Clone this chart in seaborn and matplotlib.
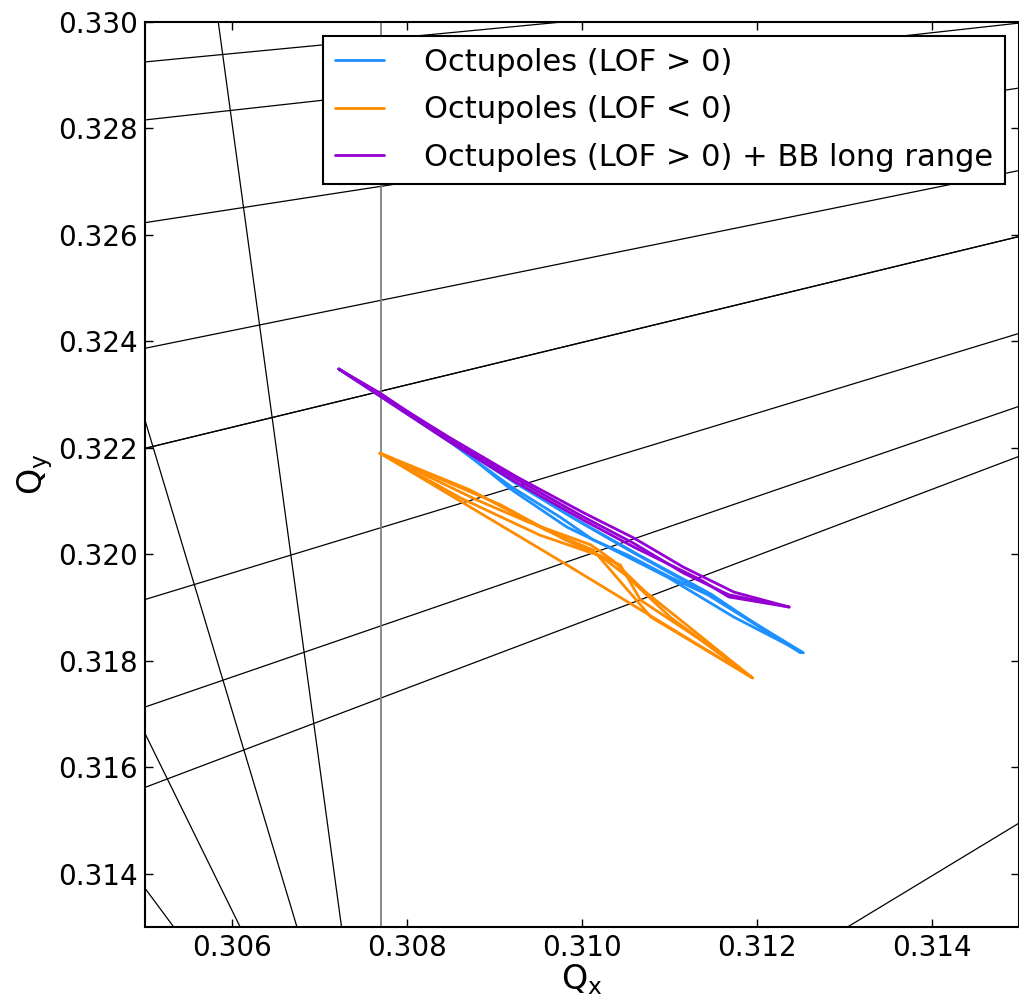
import numpy as np
import pandas as pd
import matplotlib
matplotlib.use("Agg")
import matplotlib.pyplot as plt
import seaborn as sns
from matplotlib.lines import Line2D
from matplotlib.ticker import FormatStrFormatter

# ----------------------------------------------------------
# DATA
# ----------------------------------------------------------

# resonance lines, read off the picture as end points (Qx0, Qy0) -> (Qx1, Qy1)
# (the 0.322 -> 0.326 line is drawn twice, it looks doubled in the original)
res_qx0 = [0.30584, 0.30500, 0.30500, 0.30500, 0.30500, 0.30500, 0.30500,
           0.30500, 0.30500, 0.30500, 0.30500, 0.30500, 0.30500, 0.31304]
res_qy0 = [0.33000, 0.32253, 0.31664, 0.31373, 0.32925, 0.32816, 0.32623,
           0.32387, 0.32199, 0.32199, 0.31915, 0.31713, 0.31562, 0.31300]
res_qx1 = [0.30725, 0.30674, 0.30609, 0.30533, 0.30977, 0.31500, 0.31500,
           0.31500, 0.31500, 0.31500, 0.31500, 0.31500, 0.31500, 0.31500]
res_qy1 = [0.31300, 0.31300, 0.31300, 0.31300, 0.33000, 0.32998, 0.32876,
           0.32721, 0.32597, 0.32597, 0.32415, 0.32278, 0.32184, 0.31495]

# grey vertical marker
qx_marker = 0.3077

labels = [
    "Octupoles (LOF > 0)",
    "Octupoles (LOF < 0)",
    "Octupoles (LOF > 0) + BB long range",
]
colors = ["#1E90FF", "#FF8C00", "#9400D3"]

# footprint strands, LOF > 0
blue_qx = [
    [0.30722, 0.30849, 0.30926, 0.30990, 0.31059, 0.31136, 0.31253],
    [0.30722, 0.30853, 0.30918, 0.30983, 0.31021, 0.31098, 0.31174, 0.31253],
    [0.30722, 0.30849, 0.30920, 0.30975, 0.31013, 0.31052, 0.31101, 0.31144, 0.31190, 0.31250],
    [0.30722, 0.30849, 0.30924, 0.30998, 0.31067, 0.31147, 0.31204, 0.31253],
]
blue_qy = [
    [0.32348, 0.32215, 0.32132, 0.32068, 0.32003, 0.31933, 0.31815],
    [0.32348, 0.32209, 0.32123, 0.32051, 0.32021, 0.31957, 0.31882, 0.31815],
    [0.32348, 0.32211, 0.32126, 0.32070, 0.32027, 0.31999, 0.31957, 0.31924, 0.31877, 0.31815],
    [0.32348, 0.32213, 0.32134, 0.32061, 0.31997, 0.31926, 0.31863, 0.31815],
]

# footprint strands, LOF < 0
orange_qx = [
    [0.30769, 0.30880, 0.30941, 0.31010, 0.31035, 0.31073, 0.31195],
    [0.30769, 0.30861, 0.30952, 0.31021, 0.31050, 0.31101, 0.31195],
    [0.30769, 0.30907, 0.30981, 0.31044, 0.31067, 0.31136, 0.31195],
    [0.30769, 0.30979, 0.31090, 0.31195],
    [0.30769, 0.30872, 0.30958, 0.31013, 0.31079, 0.31195],
]
orange_qy = [
    [0.32190, 0.32102, 0.32059, 0.32018, 0.31989, 0.31929, 0.31768],
    [0.32190, 0.32106, 0.32036, 0.31997, 0.31961, 0.31882, 0.31768],
    [0.32190, 0.32093, 0.32027, 0.31980, 0.31914, 0.31839, 0.31768],
    [0.32190, 0.31984, 0.31873, 0.31768],
    [0.32190, 0.32121, 0.32046, 0.32008, 0.31882, 0.31768],
]

# footprint strands, LOF > 0 + beam-beam long range
purple_qx = [
    [0.30722, 0.30769, 0.30849, 0.30926, 0.31002, 0.31059, 0.31116, 0.31168, 0.31237],
    [0.30722, 0.30849, 0.30926, 0.31002, 0.31059, 0.31116, 0.31174, 0.31237],
    [0.30722, 0.30849, 0.30926, 0.31002, 0.31059, 0.31136, 0.31168, 0.31237],
]
purple_qy = [
    [0.32348, 0.32303, 0.32215, 0.32140, 0.32070, 0.32021, 0.31965, 0.31924, 0.31901],
    [0.32348, 0.32219, 0.32145, 0.32078, 0.32031, 0.31976, 0.31929, 0.31901],
    [0.32348, 0.32211, 0.32134, 0.32064, 0.32014, 0.31952, 0.31920, 0.31901],
]

x_ticks = [0.306, 0.308, 0.310, 0.312, 0.314]
y_ticks = [0.314, 0.316, 0.318, 0.320, 0.322, 0.324, 0.326, 0.328, 0.330]

# ----------------------------------------------------------
# LONG TABLE FOR SEABORN
# ----------------------------------------------------------

rows = []
for label, all_qx, all_qy in zip(labels,
                                 [blue_qx, orange_qx, purple_qx],
                                 [blue_qy, orange_qy, purple_qy]):
    for k, (sx, sy) in enumerate(zip(all_qx, all_qy)):
        for i, (qx, qy) in enumerate(zip(sx, sy)):
            rows.append({"series": label, "strand": f"{label}-{k}",
                         "order": i, "Qx": qx, "Qy": qy})
df = pd.DataFrame(rows)

# ----------------------------------------------------------
# PLOT
# ----------------------------------------------------------

sns.set_style("ticks")
plt.rcParams["font.family"] = ["DejaVu Sans"]
plt.rcParams["mathtext.default"] = "regular"
plt.rcParams["text.color"] = "black"
plt.rcParams["axes.labelcolor"] = "black"

fig, ax = plt.subplots(figsize=(10.2, 10.01), dpi=100)
fig.subplots_adjust(left=0.142, right=0.999, top=0.978, bottom=0.074)

for x0, y0, x1, y1 in zip(res_qx0, res_qy0, res_qx1, res_qy1):
    ax.plot([x0, x1], [y0, y1], color="black", lw=0.9, zorder=1)

ax.axvline(qx_marker, color="grey", lw=1.3, zorder=1)

sns.lineplot(
    data=df,
    x="Qx",
    y="Qy",
    hue="series",
    hue_order=labels,
    palette=colors,
    units="strand",
    estimator=None,
    sort=False,
    lw=2,
    legend=False,
    ax=ax,
    zorder=3,
)

ax.set_xlim(0.305, 0.315)
ax.set_ylim(0.313, 0.330)
ax.set_xticks(x_ticks)
ax.set_yticks(y_ticks)
ax.xaxis.set_major_formatter(FormatStrFormatter("%.3f"))
ax.yaxis.set_major_formatter(FormatStrFormatter("%.3f"))
ax.tick_params(direction="in", top=True, right=True, length=6, width=1,
               labelsize=20, pad=5, colors="black")

for spine in ax.spines.values():
    spine.set_linewidth(1.5)
    spine.set_color("black")

ax.set_xlabel("Q$_x$", fontsize=24, labelpad=0)
ax.set_ylabel("Q$_y$", fontsize=24, labelpad=2)

handles = [Line2D([], [], color=c, lw=2) for c in colors]
leg = ax.legend(handles, labels, loc="upper right", fontsize=22,
                frameon=True, fancybox=False, framealpha=1,
                edgecolor="black", labelcolor="black",
                handlelength=1.6, handletextpad=1.3,
                labelspacing=0.6, borderpad=0.4, borderaxespad=0.45)
leg.get_frame().set_linewidth(1.5)

fig.savefig("out.png", dpi=100)
